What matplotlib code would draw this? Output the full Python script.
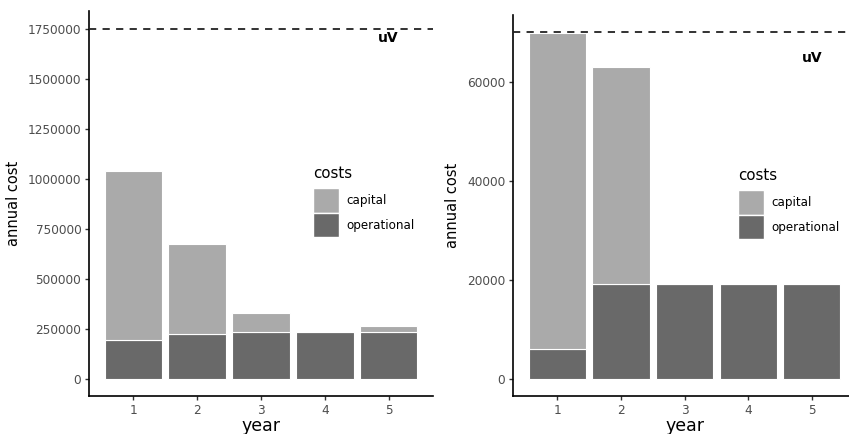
import matplotlib
matplotlib.use("Agg")
import matplotlib.pyplot as plt
from matplotlib.patches import Patch

plt.rcParams['font.family'] = ['DejaVu Sans']

# data
years = [1, 2, 3, 4, 5]
left_op = [195000, 225000, 235000, 232000, 235000]
left_cap = [842000, 448000, 93000, 0, 30000]
left_uv = 1750000
left_yticks = [0, 250000, 500000, 750000, 1000000, 1250000, 1500000, 1750000]

right_op = [6000, 19100, 19100, 19100, 19100]
right_cap = [63800, 43800, 0, 0, 0]
right_uv = 70000
right_yticks = [0, 20000, 40000, 60000]

cap_col = '#aaaaaa'
op_col = '#696969'
tick_col = '#4d4d4d'

W, H = 849, 434
fig = plt.figure(figsize=(W / 100, H / 100), dpi=100)


def px_axes(l, r, t, b):
    return fig.add_axes([l / W, 1 - b / H, (r - l) / W, (b - t) / H])


def panel(ax, op, cap, uv, yticks, ylim, uv_y, legend_xy):
    ax.bar(years, op, width=0.9, color=op_col, edgecolor='white', linewidth=0.8, zorder=2)
    ax.bar(years, cap, width=0.9, bottom=op, color=cap_col, edgecolor='white',
           linewidth=0.8, zorder=2)
    ax.axhline(uv, color='#222222', lw=1.3, ls=(0, (4, 3.5)), zorder=3)
    ax.text(5, uv_y, 'uV', fontsize=10, fontweight='bold', ha='center', va='center')
    ax.set_xlim(0.305, 5.695)
    ax.set_ylim(*ylim)
    ax.set_xticks(years)
    ax.set_yticks(yticks)
    ax.set_yticklabels([str(v) for v in yticks])
    for s in ['top', 'right']:
        ax.spines[s].set_visible(False)
    for s in ['left', 'bottom']:
        ax.spines[s].set_linewidth(1.2)
        ax.spines[s].set_color('black')
    ax.tick_params(length=3, width=1, color='#333333', labelcolor=tick_col,
                   labelsize=8.7, pad=2.5)
    ax.set_xlabel('year', fontsize=12.5, labelpad=0)
    ax.set_ylabel('annual cost', fontsize=10.5, labelpad=5)

    lx, ly = legend_xy
    fig.text(lx / W, 1 - ly / H, 'costs', fontsize=10.8, ha='left', va='top')
    handles = [Patch(facecolor=cap_col, edgecolor='white', linewidth=1),
               Patch(facecolor=op_col, edgecolor='white', linewidth=1)]
    ax.legend(handles, ['capital', 'operational'], loc='upper left',
              bbox_to_anchor=(lx / W, 1 - (ly + 22) / H), bbox_transform=fig.transFigure,
              frameon=False, fontsize=8.6, borderpad=0, borderaxespad=0,
              handlelength=2.2, handleheight=2.8, labelspacing=0.0,
              handletextpad=0.6)


axL = px_axes(89, 433, 11, 396)
panel(axL, left_op, left_cap, left_uv, left_yticks, (-87500, 1837500),
      1700000, (313, 166))

axR = px_axes(513, 856, 15, 396)
panel(axR, right_op, right_cap, right_uv, right_yticks, (-3500, 73500),
      64800, (738, 168))

fig.savefig('out.png', dpi=100)
